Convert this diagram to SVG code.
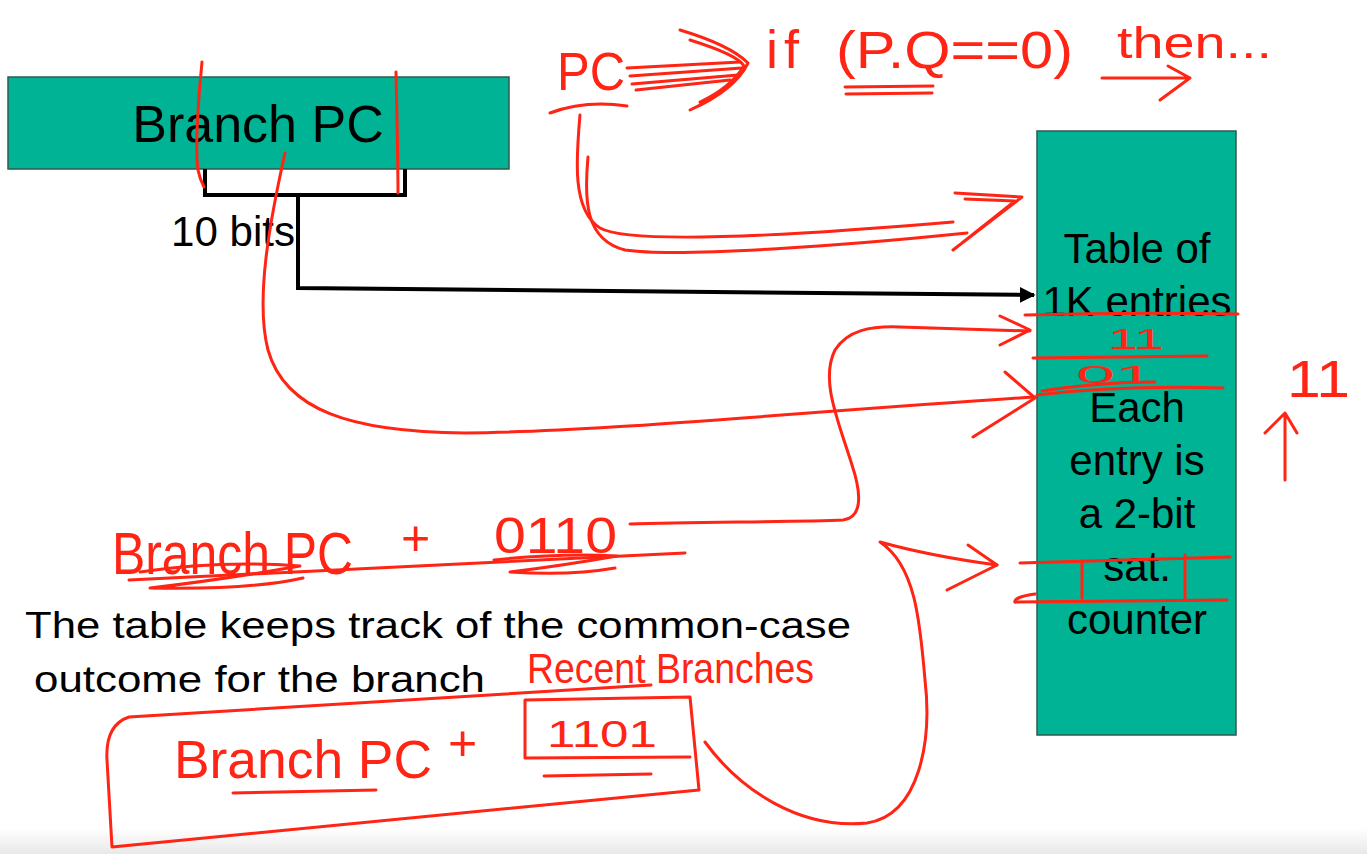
<svg xmlns="http://www.w3.org/2000/svg" width="1367" height="854" viewBox="0 0 1367 854">
<defs>
<style>
.box{fill:#00b394;stroke:#2f5a50;stroke-width:1.5}
.t{font-family:"Liberation Sans",Arial,sans-serif;fill:#000}
.h{font-family:"Liberation Sans",Arial,sans-serif;fill:#ff2414}
.r{fill:none;stroke:#ff2414;stroke-width:3;stroke-linecap:round;stroke-linejoin:round}
.k{fill:none;stroke:#000;stroke-width:4;stroke-linejoin:miter}
</style>
<marker id="ah" viewBox="0 0 10 10" refX="9" refY="5" markerWidth="4" markerHeight="4" orient="auto" markerUnits="strokeWidth">
<path d="M0 0 L10 5 L0 10 z" fill="#000"/>
</marker>
<linearGradient id="bot" x1="0" y1="0" x2="0" y2="1">
<stop offset="0" stop-color="#ffffff"/>
<stop offset="1" stop-color="#e8e8e8"/>
</linearGradient>
</defs>
<rect width="1367" height="854" fill="#fff"/>
<rect x="0" y="828" width="1367" height="26" fill="url(#bot)"/>

<g id="branch-pc">
<rect class="box" x="8" y="77" width="501" height="92"/>
<text class="t" x="258" y="142" font-size="52" text-anchor="middle">Branch PC</text>
</g>

<g id="bits-label">
<text class="t" x="171" y="246" font-size="42" textLength="124" lengthAdjust="spacingAndGlyphs">10 bits</text>
</g>

<g id="table">
<rect class="box" x="1037" y="131" width="199" height="604"/>
<g class="t" font-size="42" text-anchor="middle">
<text x="1137" y="263">Table of</text>
<text x="1137" y="316">1K entries</text>
<text x="1137" y="422">Each</text>
<text x="1137" y="475">entry is</text>
<text x="1137" y="528">a 2-bit</text>
<text x="1137" y="581">sat.</text>
<text x="1137" y="634">counter</text>
</g>
</g>

<g id="caption">
<text class="t" x="25" y="638" font-size="37" textLength="826" lengthAdjust="spacingAndGlyphs">The table keeps track of the common-case</text>
<text class="t" x="34" y="692" font-size="37" textLength="451" lengthAdjust="spacingAndGlyphs">outcome for the branch</text>
</g>

<g id="connectors">
<path class="k" d="M205 169 L205 195 L405 195 L405 169"/>
<path class="k" d="M298 195 L298 288 L1034 295" marker-end="url(#ah)"/>
</g>

<g id="annotations">
<text class="h" x="557" y="90" font-size="54" textLength="68" lengthAdjust="spacingAndGlyphs">PC</text>
<text class="h" x="766" y="68" font-size="54" letter-spacing="6">if</text>
<text class="h" x="836" y="68" font-size="52" textLength="237" lengthAdjust="spacingAndGlyphs">(P.Q==0)</text>
<text class="h" x="1117" y="58" font-size="44" textLength="155" lengthAdjust="spacingAndGlyphs">then...</text>
<text class="h" x="1108" y="349" font-size="30" textLength="56" lengthAdjust="spacingAndGlyphs">11</text>
<text class="h" x="1076" y="383" font-size="24" textLength="78" lengthAdjust="spacingAndGlyphs">01</text>
<text class="h" x="1287" y="397" font-size="52" textLength="63" lengthAdjust="spacingAndGlyphs">11</text>
<text class="h" x="112" y="574" font-size="60" textLength="241" lengthAdjust="spacingAndGlyphs">Branch PC</text>
<text class="h" x="401" y="555" font-size="50">+</text>
<text class="h" x="494" y="553" font-size="50" textLength="123" lengthAdjust="spacingAndGlyphs">0110</text>
<text class="h" x="527" y="683" font-size="42" textLength="287" lengthAdjust="spacingAndGlyphs">Recent Branches</text>
<text class="h" x="174" y="778" font-size="54" textLength="258" lengthAdjust="spacingAndGlyphs">Branch PC</text>
<text class="h" x="448" y="760" font-size="50">+</text>
<text class="h" x="547" y="747" font-size="36" textLength="110" lengthAdjust="spacingAndGlyphs">1101</text>
</g>

<g id="red-strokes">
<path class="r" d="M550 113 Q585 100 627 106"/>
<path class="r" d="M580 115 C576 160 572 210 600 228 C630 245 800 235 953 222"/>
<path class="r" d="M588 157 C584 200 585 240 625 250 C680 258 850 245 967 233"/>
<path class="r" d="M955 193 L1022 197 L953 250 M965 199 L1015 201 L962 243"/>
<path class="r" stroke-width="5" d="M627 68 L740 62 M630 76 L742 68 M632 84 L738 75 M636 90 L730 80"/>
<path class="r" stroke-width="4" d="M680 30 Q730 45 748 63 Q735 90 690 110 M690 40 Q738 55 744 66 Q730 88 700 102"/>
<path class="r" d="M845 87 L933 86 M846 94 L932 93"/>
<path class="r" d="M1102 78 L1190 78 M1168 66 L1190 78 L1160 100"/>
<path class="r" d="M202 62 C198 100 195 150 198 170 C200 180 203 185 204 187"/>
<path class="r" d="M396 72 C397 120 398 160 398 193"/>
<path class="r" d="M285 153 C270 220 255 300 268 350 C285 410 350 432 465 433 C600 432 800 412 1035 397"/>
<path class="r" d="M1005 372 L1035 398 L973 437"/>
<path class="r" d="M630 524 C700 522 800 522 843 520 C862 518 862 495 852 465 C838 420 820 380 835 350 C848 330 870 326 900 327 L1030 331"/>
<path class="r" d="M1000 316 L1030 330 L1000 345"/>
<path class="r" d="M705 742 C740 790 800 830 867 823 C920 815 932 740 925 680 C920 620 915 565 880 542 Q930 556 997 565"/>
<path class="r" d="M968 545 L997 565 L947 590"/>
<path class="r" d="M1025 315 Q1130 312 1238 314"/>
<path class="r" d="M1033 358 L1207 356"/>
<path class="r" d="M1037 395 Q1120 385 1223 388"/>
<path class="r" stroke-width="8" d="M1042 391 Q1100 382 1155 382"/>
<path class="r" d="M1020 563 L1230 557 M1015 602 L1227 600 M1082 563 L1082 598 M1185 555 L1185 598"/>
<path class="r" d="M1035 594 Q1014 597 1015 602"/>
<path class="r" d="M1285 480 L1285 413 M1265 433 L1285 413 L1297 433"/>
<path class="r" d="M129 580 L685 553"/>
<path class="r" stroke-width="4" d="M140 572 Q220 560 300 566 Q220 580 150 588 Q250 590 303 578"/>
<path class="r" stroke-width="4" d="M494 560 Q560 553 617 556 Q560 566 510 572 Q570 576 615 568"/>
<path class="r" d="M651 685 Q400 700 129 717 Q105 725 107 760 L112 847 L699 790 L690 697 L525 700 L525 758 L690 757"/>
<path class="r" d="M233 793 L376 790 M544 776 L651 774"/>
</g>
</svg>
